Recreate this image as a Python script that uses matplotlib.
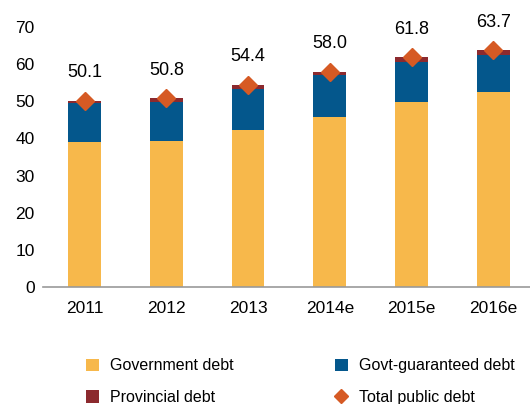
import matplotlib.pyplot as plt
import numpy as np

years = ['2011', '2012', '2013', '2014e', '2015e', '2016e']
govt_debt = [39.1, 39.3, 42.3, 45.9, 49.7, 52.4]
guaranteed_debt = [10.4, 10.5, 11.0, 11.1, 10.9, 10.1]
provincial_debt = [0.6, 1.0, 1.1, 1.0, 1.2, 1.2]
total_debt = [50.1, 50.8, 54.4, 58.0, 61.8, 63.7]

plt.rcParams['font.family'] = ['Liberation Sans', 'DejaVu Sans']
plt.rcParams['font.size'] = 12.5

c_gov = '#F7B84B'
c_guar = '#04578C'
c_prov = '#8C2A2E'
c_total = '#D65A24'

fig = plt.figure(figsize=(5.3, 4.04), dpi=100)
ax = fig.add_axes([0.081, 0.29, 0.919, 0.643])

x = np.arange(len(years))
w = 0.4
gov = np.array(govt_debt)
guar = np.array(guaranteed_debt)
prov = np.array(provincial_debt)

b1 = ax.bar(x, gov, w, color=c_gov, label='Government debt')
b3 = ax.bar(x, prov, w, bottom=gov + guar, color=c_prov, label='Provincial debt')
b2 = ax.bar(x, guar, w, bottom=gov, color=c_guar, label='Govt-guaranteed debt')
ln, = ax.plot(x, total_debt, linestyle='none', marker='D', markersize=9,
              color=c_total, label='Total public debt')

for xi, v in zip(x, total_debt):
    ax.text(xi, v + 7.6, f'{v:.1f}', ha='center', va='center', fontsize=13)

ax.set_xlim(-0.51, 5.45)
ax.set_ylim(0, 70)
ax.set_yticks(range(0, 71, 10))
ax.set_xticks(x)
ax.set_xticklabels(years)
ax.tick_params(axis='both', length=0)
ax.tick_params(axis='y', pad=6)
ax.tick_params(axis='x', pad=10)
for s in ['top', 'right', 'left']:
    ax.spines[s].set_visible(False)
ax.spines['bottom'].set_color('#999999')
ax.spines['bottom'].set_linewidth(1.2)

leg_kw = dict(loc='upper left', frameon=False, handlelength=0.8, handleheight=0.8,
              handletextpad=0.7, labelspacing=1.05, fontsize=11.5,
              borderaxespad=0, borderpad=0, markerscale=0.8)
fig.legend(handles=[b1, b3], bbox_to_anchor=(0.163, 0.113), **leg_kw)
fig.legend(handles=[b2, ln], bbox_to_anchor=(0.632, 0.113), **leg_kw)

fig.savefig('out.png', dpi=100)
